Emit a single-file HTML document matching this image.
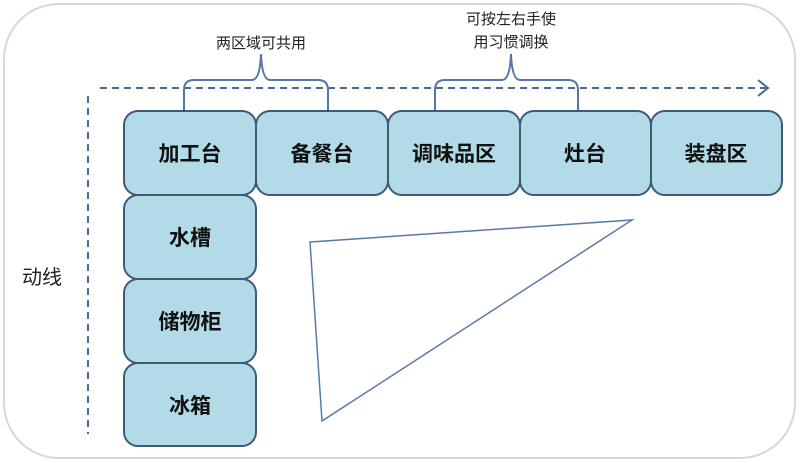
<!DOCTYPE html>
<html><head><meta charset="utf-8"><style>
body{margin:0;width:800px;height:463px;background:#fff;overflow:hidden}
svg{display:block}
text{font-family:"Liberation Sans","Noto Sans CJK SC",sans-serif}
.b{fill:#b2dbe7;stroke:#3e5a78;stroke-width:2}
.t{font-size:21px;font-weight:bold;fill:#111;text-anchor:middle}
</style></head><body>
<svg width="800" height="463" viewBox="0 0 800 463">
<rect x="4" y="4" width="791" height="454" rx="55" fill="#fff" stroke="#d8d8d8" stroke-width="2"/>
<line x1="100" y1="88" x2="766" y2="88" stroke="#4a6a95" stroke-width="2" stroke-dasharray="7,5"/>
<polyline points="758,80 768,88 758,96" fill="none" stroke="#4a6a95" stroke-width="2"/>
<line x1="88" y1="96" x2="88" y2="434" stroke="#4a6a95" stroke-width="2" stroke-dasharray="7,5"/>
<path d="M184,111 V90 Q184,80 194,80 H252 Q260,80 261,54 Q262,80 270,80 H318 Q328,80 328,90 V111" fill="none" stroke="#5577a8" stroke-width="2"/>
<path d="M435,111 V90 Q435,80 445,80 H502 Q510,80 511,54 Q512,80 520,80 H568 Q578,80 578,90 V111" fill="none" stroke="#5577a8" stroke-width="2"/>
<text x="261" y="48" font-size="15" text-anchor="middle" fill="#222">两区域可共用</text>
<text x="511" y="24" font-size="15" text-anchor="middle" fill="#222">可按左右手使</text>
<text x="511" y="47" font-size="15" text-anchor="middle" fill="#222">用习惯调换</text>
<text x="22" y="284" font-size="20" fill="#222">动线</text>
<rect class="b" x="124" y="111" width="132" height="84" rx="14"/>
<rect class="b" x="256" y="111" width="132" height="84" rx="14"/>
<rect class="b" x="388" y="111" width="132" height="84" rx="14"/>
<rect class="b" x="520" y="111" width="131" height="84" rx="14"/>
<rect class="b" x="651" y="111" width="131" height="84" rx="14"/>
<rect class="b" x="124" y="195" width="132" height="84" rx="14"/>
<rect class="b" x="124" y="279" width="132" height="84" rx="14"/>
<rect class="b" x="124" y="363" width="132" height="83" rx="14"/>
<text class="t" x="190" y="161">加工台</text>
<text class="t" x="322" y="161">备餐台</text>
<text class="t" x="454" y="161">调味品区</text>
<text class="t" x="585" y="161">灶台</text>
<text class="t" x="716" y="161">装盘区</text>
<text class="t" x="190" y="245">水槽</text>
<text class="t" x="190" y="329">储物柜</text>
<text class="t" x="190" y="413">冰箱</text>
<polygon points="310,242 632,220 322,421" fill="none" stroke="#5a7aa5" stroke-width="1.5"/>
</svg>
</body></html>
